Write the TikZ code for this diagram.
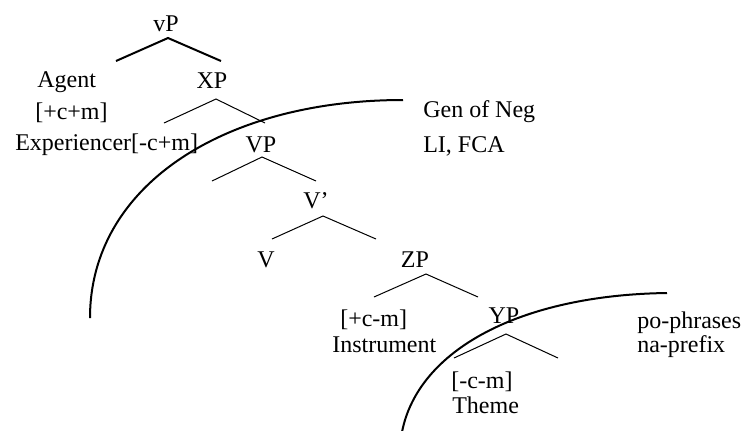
\documentclass[tikz,border=0pt]{standalone}
\usepackage{fontspec}
\setmainfont{Liberation Serif}
\begin{document}
\begin{tikzpicture}[x=0.75pt,y=-0.75pt,
  lbl/.style={inner sep=0pt,anchor=base,font=\fontsize{18}{21.6}\selectfont},
  lblw/.style={lbl,anchor=base west},
  branch/.style={line width=0.75pt},
  thickbranch/.style={line width=1.5pt},
  arcline/.style={line width=1.5pt}]
\useasboundingbox (0,0) rectangle (744,430);
% labels
\node[lbl]  (vP)   at (166,31) {vP};
\node[lblw] (agent) at (37,87) {Agent};
\node[lblw] (agf)  at (35,119) {[+c+m]};
\node[lbl]  (XP)   at (212,88) {XP};
\node[lblw] (exp)  at (15,150) {Experiencer[-c+m]};
\node[lbl]  (VP)   at (261,152) {VP};
\node[lbl]  (Vbar) at (316,208) {V’};
\node[lbl]  (V)    at (266,267) {V};
\node[lbl]  (ZP)   at (415,267) {ZP};
\node[lblw] (inf)  at (340,326) {[+c-m]};
\node[lblw] (ins)  at (332,352) {Instrument};
\node[lbl]  (YP)   at (504,323) {YP};
\node[lblw] (thf)  at (451,388) {[-c-m]};
\node[lblw] (th)   at (452,413) {Theme};
\node[lblw] (po)   at (637,328) {po-phrases};
\node[lblw] (na)   at (637,352) {na-prefix};
\node[lblw] (gen)  at (423,117) {Gen of Neg};
\node[lblw] (li)   at (423,152) {LI, FCA};
% branch coordinates
\coordinate (vPl) at (116,61); \coordinate (vPt) at (168,38); \coordinate (vPr) at (221,61);
\coordinate (XPl) at (164,123); \coordinate (XPt) at (216,99); \coordinate (XPr) at (265,123);
\coordinate (VPl) at (212,181); \coordinate (VPt) at (262,157); \coordinate (VPr) at (316,181);
\coordinate (Vbl) at (272,239); \coordinate (Vbt) at (323,216); \coordinate (Vbr) at (376,239);
\coordinate (ZPl) at (374,297); \coordinate (ZPt) at (426,274); \coordinate (ZPr) at (478,297);
\coordinate (YPl) at (454,358); \coordinate (YPt) at (506,334); \coordinate (YPr) at (558,358);
\draw[thickbranch] (vPl) -- (vPt) -- (vPr);
\draw[branch] (XPl) -- (XPt) -- (XPr);
\draw[branch] (VPl) -- (VPt) -- (VPr);
\draw[branch] (Vbl) -- (Vbt) -- (Vbr);
\draw[branch] (ZPl) -- (ZPt) -- (ZPr);
\draw[branch] (YPl) -- (YPt) -- (YPr);
% arcs
\coordinate (bigA) at (90,318); \coordinate (bigB) at (403,100);
\coordinate (smA) at (402,432); \coordinate (smB) at (667,293);
\draw[arcline] (bigA) .. controls (90,185) and (225,100) .. (bigB);
\draw[arcline] (smA) .. controls (418,350) and (520,295) .. (smB);
\end{tikzpicture}
\end{document}
